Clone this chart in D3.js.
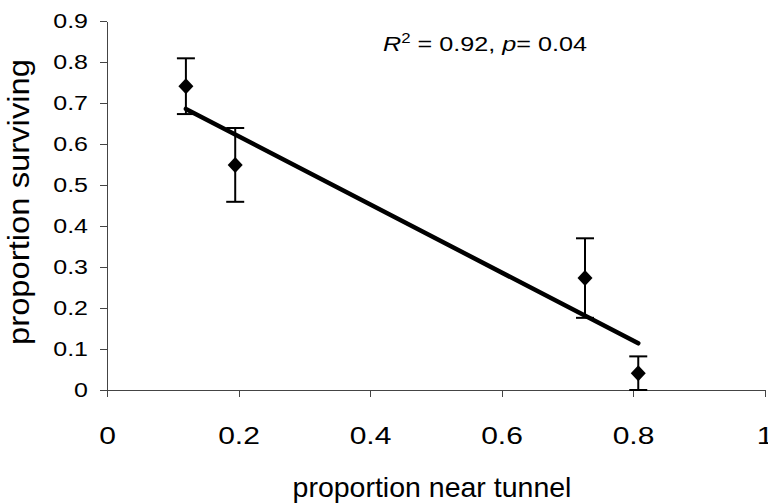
<!DOCTYPE html>
<html>
<head>
<meta charset="utf-8">
<script src="https://cdn.jsdelivr.net/npm/d3@7"></script>
<style>
  body { margin: 0; background: #fff; }
  svg { display: block; font-family: "Liberation Sans", Arial, sans-serif; }
  .axis path, .axis line { stroke: #444; stroke-width: 1; shape-rendering: crispEdges; }
  .axis text { fill: #000; }
</style>
</head>
<body>
<div class="chart"></div>
<script>
// values
var propNear = [0.12, 0.195, 0.727, 0.808];
var propSurv = [0.741, 0.549, 0.273, 0.041];
var errBar = [0.068, 0.09, 0.097, 0.041];
var xTicks = [0, 0.2, 0.4, 0.6, 0.8, 1];
var yTicks = [0, 0.1, 0.2, 0.3, 0.4, 0.5, 0.6, 0.7, 0.8, 0.9];

drawchart();

function drawchart() {
  var svgWidth = 768, svgHeight = 504;

  var svg = d3.select(".chart")
    .append("svg")
      .attr("width", svgWidth)
      .attr("height", svgHeight);

  var x = d3.scaleLinear().domain([0, 1]).range([107, 764.5]);
  var y = d3.scaleLinear().domain([0, 0.9]).range([390, 21]);

  var fmt = function(d) { return d3.format("")(+d.toFixed(1)); };

  // axes (the labels in the original are a bit wider than plain Arial)
  var yAxis = svg.append("g")
    .attr("class", "axis")
    .attr("transform", "translate(" + x(0) + ",0)")
    .call(d3.axisLeft(y).tickValues(yTicks).tickFormat(fmt).tickSize(7).tickSizeOuter(0));
  yAxis.selectAll(".tick text")
    .style("font-size", "20px")
    .attr("x", 0)
    .attr("transform", "translate(-19,0) scale(1.25,1)");

  var xAxis = svg.append("g")
    .attr("class", "axis")
    .attr("transform", "translate(0," + y(0) + ")")
    .call(d3.axisBottom(x).tickValues(xTicks).tickFormat(fmt).tickSize(7).tickSizeOuter(0).tickPadding(30));
  xAxis.selectAll(".tick text")
    .style("font-size", "24px")
    .attr("transform", "scale(1.25,1)");

  // axis titles
  svg.append("text")
    .attr("x", 432)
    .attr("y", 497)
    .attr("text-anchor", "middle")
    .style("font-size", "28.5px")
    .text("proportion near tunnel");

  svg.append("text")
    .attr("transform", "translate(29,202) rotate(-90)")
    .attr("text-anchor", "middle")
    .style("font-size", "30px")
    .attr("textLength", 286)
    .attr("lengthAdjust", "spacingAndGlyphs")
    .text("proportion surviving");

  // least squares fit through the points
  var mx = d3.mean(propNear), my = d3.mean(propSurv);
  var sxy = d3.sum(propNear, function(v, i) { return (v - mx) * (propSurv[i] - my); });
  var sxx = d3.sum(propNear, function(v) { return (v - mx) * (v - mx); });
  var slope = sxy / sxx, icpt = my - slope * mx;
  var xExt = d3.extent(propNear);

  svg.append("line")
    .attr("x1", x(xExt[0])).attr("y1", y(icpt + slope * xExt[0]))
    .attr("x2", x(xExt[1])).attr("y2", y(icpt + slope * xExt[1]))
    .attr("stroke", "#000")
    .attr("stroke-width", 4.5)
    .attr("stroke-linecap", "round");

  // error bars
  var pts = propNear.map(function(d, i) { return {x: d, y: propSurv[i], e: errBar[i]}; });

  var eb = svg.selectAll(".err")
    .data(pts)
    .enter()
    .append("g")
      .attr("class", "err")
      .attr("stroke", "#000")
      .attr("stroke-width", 2);

  eb.append("line")
    .attr("x1", function(d) { return x(d.x); })
    .attr("x2", function(d) { return x(d.x); })
    .attr("y1", function(d) { return y(d.y + d.e); })
    .attr("y2", function(d) { return y(d.y - d.e); });
  eb.append("line")
    .attr("x1", function(d) { return x(d.x) - 9; })
    .attr("x2", function(d) { return x(d.x) + 9; })
    .attr("y1", function(d) { return y(d.y + d.e); })
    .attr("y2", function(d) { return y(d.y + d.e); });
  eb.append("line")
    .attr("x1", function(d) { return x(d.x) - 9; })
    .attr("x2", function(d) { return x(d.x) + 9; })
    .attr("y1", function(d) { return y(d.y - d.e); })
    .attr("y2", function(d) { return y(d.y - d.e); });

  // diamond markers
  svg.selectAll(".pt")
    .data(pts)
    .enter()
    .append("path")
      .attr("class", "pt")
      .attr("d", "M0,-8L7.5,0L0,8L-7.5,0Z")
      .attr("transform", function(d) { return "translate(" + x(d.x) + "," + y(d.y) + ")"; })
      .attr("fill", "#000");

  // stats annotation
  var ann = svg.append("text")
    .attr("transform", "translate(383,51) scale(1.2,1)")
    .style("font-size", "21px");
  ann.append("tspan").style("font-style", "italic").text("R");
  ann.append("tspan").attr("dy", -8).style("font-size", "14px").text("2");
  ann.append("tspan").attr("dy", 8).text(" = 0.92, ");
  ann.append("tspan").style("font-style", "italic").text("p");
  ann.append("tspan").text("= 0.04");
}
</script>
</body>
</html>
